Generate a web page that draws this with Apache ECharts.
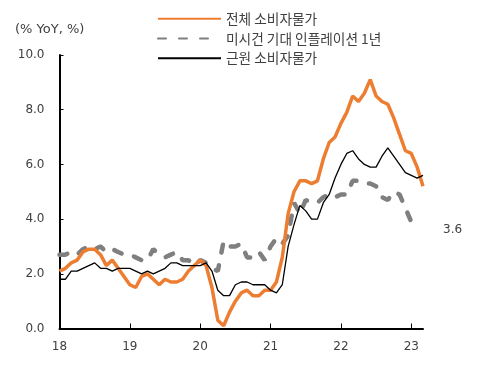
<!DOCTYPE html>
<html>
<head>
<meta charset="utf-8">
<script src="https://cdn.jsdelivr.net/npm/echarts@6/dist/echarts.min.js"></script>
<style>
html,body{margin:0;padding:0;background:#fff;}
#chart{width:480px;height:369px;}
</style>
</head>
<body>
<div id="chart"></div>
<script>
// Monthly categories Jan 2018 - Mar 2023
var months = [];
for (var y = 2018; y <= 2023; y++) {
  for (var m = 1; m <= 12; m++) {
    if (y === 2023 && m > 3) break;
    months.push(y + '-' + (m < 10 ? '0' + m : m));
  }
}
var tickLabels = ['18', '19', '20', '21', '22', '23'];
var yTicks = ['0.0', '2.0', '4.0', '6.0', '8.0', '10.0'];

var seriesNames = ['전체 소비자물가', '미시건 기대 인플레이션 1년', '근원 소비자물가'];

var headlineCPI = [
  2.1, 2.2, 2.4, 2.5, 2.8, 2.9, 2.9, 2.7, 2.3, 2.5, 2.2, 1.9,
  1.6, 1.5, 1.9, 2.0, 1.8, 1.6, 1.8, 1.7, 1.7, 1.8, 2.1, 2.3,
  2.5, 2.3, 1.5, 0.3, 0.1, 0.6, 1.0, 1.3, 1.4, 1.2, 1.2, 1.4,
  1.4, 1.7, 2.6, 4.2, 5.0, 5.4, 5.4, 5.3, 5.4, 6.2, 6.8, 7.0,
  7.5, 7.9, 8.5, 8.3, 8.6, 9.1, 8.5, 8.3, 8.2, 7.7, 7.1, 6.5,
  6.4, 5.9, 5.2
];
var michigan1Y = [
  2.7, 2.7, 2.8, 2.7, 2.9, 3.0, 2.9, 3.0, 2.8, 2.9, 2.8, 2.7,
  2.7, 2.6, 2.5, 2.5, 2.9, 2.7, 2.6, 2.7, 2.8, 2.5, 2.5, 2.3,
  2.5, 2.4, 2.2, 2.1, 3.2, 3.0, 3.0, 3.1, 2.6, 2.6, 2.8, 2.5,
  3.0, 3.3, 3.1, 3.4, 4.6, 4.2, 4.7, 4.6, 4.6, 4.8, 4.9, 4.8,
  4.9, 4.9, 5.4, 5.4, 5.3, 5.3, 5.2, 4.8, 4.7, 5.0, 4.9, 4.4,
  3.9, 4.1, null
];
var coreCPI = [
  1.8, 1.8, 2.1, 2.1, 2.2, 2.3, 2.4, 2.2, 2.2, 2.1, 2.2, 2.2,
  2.2, 2.1, 2.0, 2.1, 2.0, 2.1, 2.2, 2.4, 2.4, 2.3, 2.3, 2.3,
  2.3, 2.4, 2.1, 1.4, 1.2, 1.2, 1.6, 1.7, 1.7, 1.6, 1.6, 1.6,
  1.4, 1.3, 1.6, 3.0, 3.8, 4.5, 4.3, 4.0, 4.0, 4.6, 4.9, 5.5,
  6.0, 6.4, 6.5, 6.2, 6.0, 5.9, 5.9, 6.3, 6.6, 6.3, 6.0, 5.7,
  5.6, 5.5, 5.6
];
var michiganLatest = 3.6;

var chart = echarts.init(document.getElementById('chart'));
var txt = '#404040';
var font = '"Noto Sans CJK KR", "Noto Sans", sans-serif';
var latin = '"DejaVu Sans", sans-serif';

chart.setOption({
  animation: false,
  textStyle: { fontFamily: font },
  title: {
    text: '(% YoY, %)',
    left: 10, top: 18,
    textStyle: { fontSize: 13, fontWeight: 'normal', color: txt, fontFamily: latin }
  },
  legend: {
    orient: 'vertical',
    left: 152, top: 7,
    itemWidth: 63, itemHeight: 14, itemGap: 6,
    itemStyle: { opacity: 0 },
    textStyle: { fontSize: 13.7, color: txt, fontFamily: font },
    data: seriesNames
  },
  grid: { left: 59.5, right: 57, top: 55, bottom: 40.5 },
  xAxis: {
    type: 'category',
    data: months,
    boundaryGap: false,
    axisLine: { lineStyle: { color: '#000', width: 2 } },
    axisTick: { inside: true, length: 5, interval: 11, lineStyle: { color: '#000', width: 1 } },
    axisLabel: {
      interval: 11, margin: 12, fontSize: 12, color: txt, fontFamily: latin,
      formatter: function (v, i) { return tickLabels[Math.round(i / 12)]; }
    },
    splitLine: { show: false }
  },
  yAxis: {
    type: 'value', min: 0, max: 10, interval: 2,
    axisLine: { show: true, lineStyle: { color: '#000', width: 2 } },
    axisTick: { show: true, inside: true, length: 4, lineStyle: { color: '#000', width: 1 } },
    axisLabel: {
      margin: 15, fontSize: 12, color: txt, fontFamily: latin,
      formatter: function (v) { return yTicks[Math.round(v / 2)]; }
    },
    splitLine: { show: false }
  },
  series: [
    {
      name: seriesNames[0], type: 'line', data: headlineCPI,
      symbol: 'none', z: 3,
      lineStyle: { color: '#ED7D31', width: 3.5 },
      itemStyle: { color: '#ED7D31' }
    },
    {
      name: seriesNames[1], type: 'line', data: michigan1Y,
      symbol: 'none', z: 2,
      lineStyle: { color: '#7F7F7F', width: 4.5, type: [8, 13], cap: 'round' },
      itemStyle: { color: '#7F7F7F' },
      markPoint: {
        symbol: 'circle', symbolSize: 0,
        label: {
          show: true, position: 'right', distance: 20, fontSize: 12, color: txt, fontFamily: latin,
          formatter: function () { return michiganLatest.toFixed(1); }
        },
        data: [{ coord: [months.length - 1, michiganLatest] }]
      }
    },
    {
      name: seriesNames[2], type: 'line', data: coreCPI,
      symbol: 'none', z: 4,
      lineStyle: { color: '#000', width: 1.3 },
      itemStyle: { color: '#000' }
    }
  ]
});
</script>
</body>
</html>
